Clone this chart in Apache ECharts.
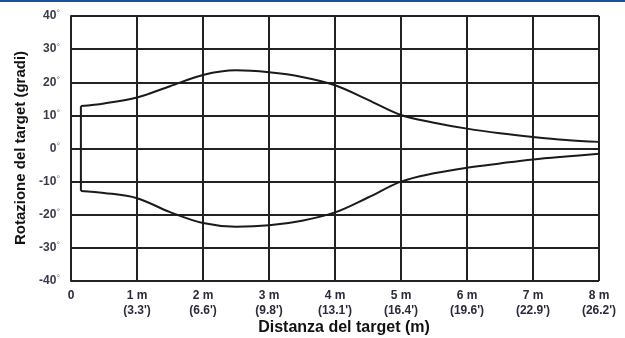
<!DOCTYPE html>
<html>
<head>
<meta charset="utf-8">
<script src="https://cdn.jsdelivr.net/npm/echarts@6/dist/echarts.min.js"></script>
<style>
html,body{margin:0;padding:0;background:#fff;}
#c{width:625px;height:338px;}
</style>
</head>
<body>
<div id="c"></div>
<script>
// Distances (m) where the boundary was read
var distances = [0.15, 0.5, 1, 1.5, 2, 2.5, 3, 3.5, 4, 4.5, 5, 5.5, 6, 6.5, 7, 7.5, 8];
// Upper boundary (degrees)
var upperDeg = [12.8, 13.6, 15.4, 18.8, 22.2, 23.6, 23.0, 21.6, 19.1, 14.7, 10.1, 7.8, 6.0, 4.6, 3.5, 2.6, 2.0];
// Lower boundary (degrees)
var lowerDeg = [-12.8, -13.4, -15.0, -19.2, -22.5, -23.6, -23.2, -21.8, -19.3, -14.8, -10.0, -7.5, -5.8, -4.5, -3.3, -2.4, -1.6];
// Tick labels
var xTickMeters = ['0', '1 m', '2 m', '3 m', '4 m', '5 m', '6 m', '7 m', '8 m'];
var xTickFeet = ['', "(3.3')", "(6.6')", "(9.8')", "(13.1')", "(16.4')", "(19.6')", "(22.9')", "(26.2')"];
var yTickValues = [-40, -30, -20, -10, 0, 10, 20, 30, 40];

var xTitle = 'Distanza del target (m)';
var yTitle = 'Rotazione del target (gradi)';

function pairs(xs, ys) { return xs.map(function (x, i) { return [x, ys[i]]; }); }
var n = distances.length;
var leftEdge = [[distances[0], upperDeg[0]], [distances[0], lowerDeg[0]]];
var rightEdge = [[distances[n - 1], upperDeg[n - 1]], [distances[n - 1], lowerDeg[n - 1]]];

var chart = echarts.init(document.getElementById('c'), null, {renderer: 'canvas'});
var labelFont = '"Liberation Sans Narrow", "Arial Narrow", Arial, sans-serif';
var lineStyle = {color: '#1a1a1a', width: 2};

chart.setOption({
  animation: false,
  backgroundColor: '#ffffff',
  grid: {left: 71, right: 26, top: 16, bottom: 57},
  xAxis: {
    type: 'value', min: 0, max: 8, interval: 1,
    axisLine: {show: true, lineStyle: {color: '#222', width: 2}},
    axisTick: {show: false},
    splitLine: {show: true, lineStyle: {color: '#222', width: 2}},
    axisLabel: {
      margin: 7,
      fontFamily: labelFont, fontWeight: 'bold', fontSize: 12, color: '#2a2a3a', lineHeight: 15,
      formatter: function (v) {
        var i = Math.round(v);
        return xTickFeet[i] ? xTickMeters[i] + '\n' + xTickFeet[i] : xTickMeters[i];
      }
    }
  },
  yAxis: {
    type: 'value', min: -40, max: 40, interval: 10,
    axisLine: {show: true, lineStyle: {color: '#222', width: 2}},
    axisTick: {show: false},
    splitLine: {show: true, lineStyle: {color: '#222', width: 2}},
    axisLabel: {
      margin: 11,
      formatter: function (v) { return '{n|' + v + '}{d|°}'; },
      rich: {
        n: {fontFamily: labelFont, fontWeight: 'bold', fontSize: 12, color: '#3a3a4a'},
        d: {fontFamily: labelFont, fontSize: 9, color: '#777', verticalAlign: 'top', padding: [0, 0, 4, 0]}
      }
    }
  },
  graphic: [
    {type: 'rect', shape: {x: 0, y: 0, width: 625, height: 2}, style: {fill: '#1f4f9a'}},
    {type: 'text', x: 344, y: 328, style: {text: xTitle, font: 'bold 16px Arial, "Liberation Sans", sans-serif', fill: '#111', textAlign: 'center', textVerticalAlign: 'middle'}},
    {type: 'text', x: 21, y: 148, rotation: Math.PI / 2, style: {text: yTitle, font: 'bold 15px Arial, "Liberation Sans", sans-serif', fill: '#111', textAlign: 'center', textVerticalAlign: 'middle'}}
  ],
  series: [
    {type: 'line', data: pairs(distances, upperDeg), smooth: 0.35, symbol: 'none', lineStyle: lineStyle},
    {type: 'line', data: pairs(distances, lowerDeg), smooth: 0.35, symbol: 'none', lineStyle: lineStyle},
    {type: 'line', data: leftEdge, symbol: 'none', lineStyle: lineStyle},
    {type: 'line', data: rightEdge, symbol: 'none', lineStyle: lineStyle}
  ]
});
</script>
</body>
</html>
